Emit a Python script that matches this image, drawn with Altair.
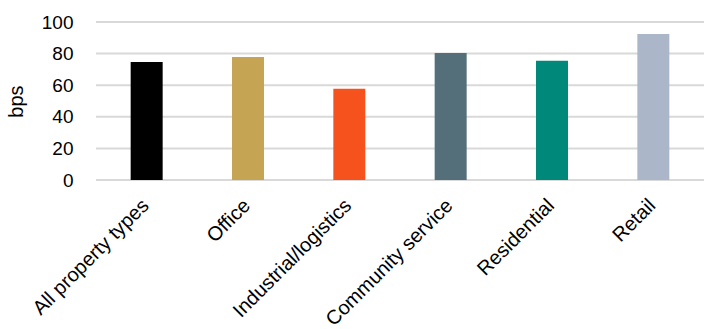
import altair as alt
import pandas as pd

categories = ["All property types", "Office", "Industrial/logistics",
              "Community service", "Residential", "Retail"]
values = [74.7, 77.9, 57.7, 80.4, 75.4, 92.4]
colors = ["#000000", "#C5A553", "#F5521E", "#546E7A", "#00897B", "#ABB7C9"]
grid_ticks = [0, 20, 40, 60, 80, 100]

df = pd.DataFrame({"category": categories, "value": values})
grid_df = pd.DataFrame({"tick": grid_ticks})

FONT = "Liberation Sans"

yscale = alt.Scale(domain=[0, 100])


def y_axis():
    return alt.Axis(title="bps", values=grid_ticks, grid=False,
                    ticks=False, domain=False, labelFontSize=19,
                    labelOverlap=False,
                    labelColor="#000000", labelFont=FONT,
                    labelPadding=23, titleFont=FONT, titleFontSize=20,
                    titleFontWeight="normal", titleColor="#000000",
                    titleAngle=-90, titleX=-80, titleY=79,
                    titleAlign="center", titleBaseline="middle")


grid = alt.Chart(grid_df).mark_rule(color="#d9d9d9", strokeWidth=2).encode(
    y=alt.Y("tick:Q", scale=yscale, axis=y_axis()),
    x=alt.value(0),
    x2=alt.value(608),
)

bars = alt.Chart(df).mark_bar(size=32).encode(
    x=alt.X("category:N", sort=categories,
            scale=alt.Scale(paddingInner=0.68, paddingOuter=0.34),
            axis=alt.Axis(title=None, labelAngle=-45, labelAlign="right",
                          labelBaseline="top", labelPadding=15, labelOffset=-8,
                          ticks=False, domain=False,
                          labelFontSize=20, labelColor="#000000",
                          labelFont=FONT, labelLimit=300)),
    y=alt.Y("value:Q", scale=yscale, axis=y_axis()),
    color=alt.Color("category:N", sort=categories,
                    scale=alt.Scale(domain=categories, range=colors),
                    legend=None),
)

chart = alt.layer(grid, bars).properties(
    width=608, height=158,
    padding={"left": 96, "top": 22, "right": 0, "bottom": 149},
    autosize=alt.AutoSizeParams(type="none"),
    background="#ffffff",
).configure_view(stroke=None)

chart.save("out.html", embed_options={"renderer": "svg", "actions": False})
